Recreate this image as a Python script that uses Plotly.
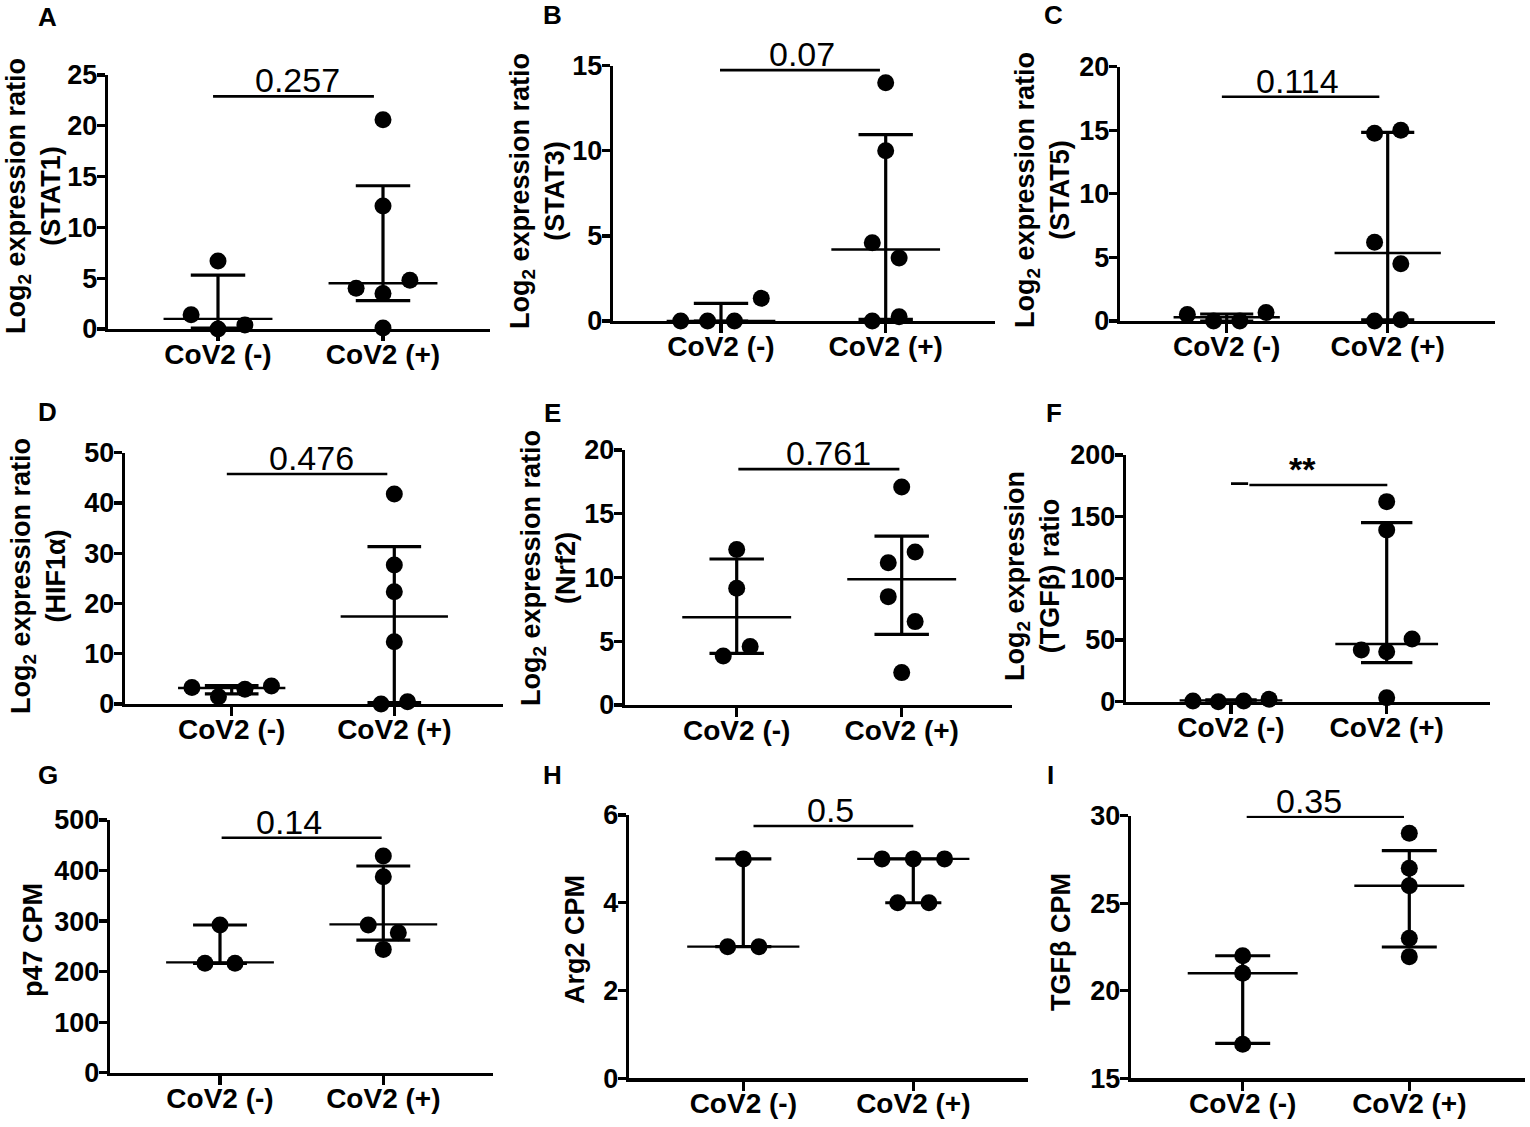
import plotly.graph_objects as go

W, H = 1530, 1127
CATEGORIES = ["CoV2 (-)", "CoV2 (+)"]
FONT = "Liberation Sans, Arial, Helvetica, sans-serif"

# ---------------- data ----------------
# A: STAT1
stat1_neg = [6.7, 1.4, 0.0, 0.4]
stat1_pos = [20.6, 12.1, 4.0, 3.5, 4.8, 0.1]
stat1_median = [1.0, 4.5]
stat1_q1 = [0.1, 2.8]
stat1_q3 = [5.3, 14.1]
stat1_bar = 22.9
stat1_p = "0.257"
stat1_ticks = [0, 5, 10, 15, 20, 25]

# B: STAT3
stat3_neg = [0.0, 0.0, 0.0, 1.33]
stat3_pos = [14.0, 10.0, 4.6, 3.7, 0.0, 0.25]
stat3_median = [0.0, 4.2]
stat3_q1 = [0.0, 0.1]
stat3_q3 = [1.04, 10.95]
stat3_bar = 14.74
stat3_p = "0.07"
stat3_ticks = [0, 5, 10, 15]

# C: STAT5
stat5_neg = [0.52, 0.0, 0.0, 0.66]
stat5_pos = [14.76, 15.0, 6.2, 4.5, 0.0, 0.1]
stat5_median = [0.3, 5.35]
stat5_q1 = [0.0, 0.1]
stat5_q3 = [0.55, 14.84]
stat5_bar = 17.64
stat5_p = "0.114"
stat5_ticks = [0, 5, 10, 15, 20]

# D: HIF1a
hif_neg = [3.3, 1.46, 2.92, 3.58]
hif_pos = [41.8, 27.65, 22.35, 12.4, 0.0, 0.46]
hif_median = [3.18, 17.4]
hif_q1 = [2.0, 0.27]
hif_q3 = [3.65, 31.3]
hif_bar = 45.76
hif_p = "0.476"
hif_ticks = [0, 10, 20, 30, 40, 50]

# E: Nrf2
nrf_neg = [12.2, 9.15, 3.84, 4.58]
nrf_pos = [17.1, 11.16, 12.0, 8.5, 6.54, 2.54]
nrf_median = [6.88, 9.86]
nrf_q1 = [4.05, 5.54]
nrf_q3 = [11.45, 13.25]
nrf_bar = 18.5
nrf_p = "0.761"
nrf_ticks = [0, 5, 10, 15, 20]

# F: TGFb expression ratio
tgf_neg = [0.5, 0.0, 0.5, 1.9]
tgf_pos = [162.2, 139.2, 41.9, 40.5, 50.8, 3.2]
tgf_median = [1.0, 46.8]
tgf_q1 = [0.3, 31.6]
tgf_q3 = [1.5, 145.1]
tgf_bar = 175.7
tgf_p = "**"
tgf_ticks = [0, 50, 100, 150, 200]

# G: p47 CPM
p47_neg = [292.2, 216.4, 216.4]
p47_pos = [428.8, 387.9, 292.2, 244.0, 277.0]
p47_median = [218.3, 293.5]
p47_q1 = [216.4, 262.5]
p47_q3 = [292.2, 409.0]
p47_bar = 465.0
p47_p = "0.14"
p47_ticks = [0, 100, 200, 300, 400, 500]

# H: Arg2 CPM
arg2_neg = [5.0, 3.0, 3.0]
arg2_pos = [5.0, 5.0, 5.0, 4.0, 4.0]
arg2_median = [3.0, 5.0]
arg2_q1 = [3.0, 4.0]
arg2_q3 = [5.0, 5.0]
arg2_bar = 5.75
arg2_p = "0.5"
arg2_ticks = [0, 2, 4, 6]

# I: TGFb CPM
tgfcpm_neg = [22.0, 21.0, 16.95]
tgfcpm_pos = [29.0, 27.0, 26.0, 23.0, 21.95]
tgfcpm_median = [21.0, 26.0]
tgfcpm_q1 = [17.0, 22.5]
tgfcpm_q3 = [22.0, 28.0]
tgfcpm_bar = 29.94
tgfcpm_p = "0.35"
tgfcpm_ticks = [15, 20, 25, 30]

# ---------------- panel assembly (values + layout geometry) ----------------
# geometry in pixels: left, right, bottom, top, category-0 centre, category-1 centre
PANELS = [
    dict(letter="A", neg=stat1_neg, pos=stat1_pos, med=stat1_median, q1=stat1_q1, q3=stat1_q3,
         bar=stat1_bar, p=stat1_p, ticks=stat1_ticks,
         title="Log<sub>2</sub> expression ratio<br>(STAT1)",
         box=(108, 490, 329, 75, 218, 383), bar_x=(-0.03, 0.945), p_x=0.483,
         title_xy=(33, 196), letter_xy=(47, 17), thresh=25.8, step=0.163),
    dict(letter="B", neg=stat3_neg, pos=stat3_pos, med=stat3_median, q1=stat3_q1, q3=stat3_q3,
         bar=stat3_bar, p=stat3_p, ticks=stat3_ticks,
         title="Log<sub>2</sub> expression ratio<br>(STAT3)",
         box=(613, 995, 321, 65.7, 721, 885.7), bar_x=(-0.006, 0.965), p_x=0.49,
         title_xy=(538, 191), letter_xy=(552, 15), thresh=25.8, step=0.163),
    dict(letter="C", neg=stat5_neg, pos=stat5_pos, med=stat5_median, q1=stat5_q1, q3=stat5_q3,
         bar=stat5_bar, p=stat5_p, ticks=stat5_ticks,
         title="Log<sub>2</sub> expression ratio<br>(STAT5)",
         box=(1120, 1495, 321, 66.7, 1226.7, 1387.7), bar_x=(-0.03, 0.948), p_x=0.44,
         title_xy=(1042, 190), letter_xy=(1053, 15), thresh=25.8, step=0.163),
    dict(letter="D", neg=hif_neg, pos=hif_pos, med=hif_median, q1=hif_q1, q3=hif_q3,
         bar=hif_bar, p=hif_p, ticks=hif_ticks,
         title="Log<sub>2</sub> expression ratio<br>(HIF1α)",
         box=(125, 503, 704, 452.7, 231.7, 394.3), bar_x=(-0.03, 0.957), p_x=0.49,
         title_xy=(38, 576), letter_xy=(47, 412), thresh=25.8, step=0.163),
    dict(letter="E", neg=nrf_neg, pos=nrf_pos, med=nrf_median, q1=nrf_q1, q3=nrf_q3,
         bar=nrf_bar, p=nrf_p, ticks=nrf_ticks,
         title="Log<sub>2</sub> expression ratio<br>(Nrf2)",
         box=(625, 1012, 705, 450, 736.7, 901.7), bar_x=(0.01, 0.986), p_x=0.555,
         title_xy=(548, 568), letter_xy=(552, 413), thresh=25.8, step=0.163),
    dict(letter="F", neg=tgf_neg, pos=tgf_pos, med=tgf_median, q1=tgf_q1, q3=tgf_q3,
         bar=tgf_bar, p=tgf_p, ticks=tgf_ticks,
         title="Log<sub>2</sub> expression<br>(TGFβ) ratio",
         box=(1126, 1490, 701.7, 455, 1231, 1386.7), bar_x=(0.118, 1.004), p_x=0.46,
         title_xy=(1032, 576), letter_xy=(1054, 413), thresh=25.8, step=0.163,
         extra_bar=(0.0, 0.11, 1.1), p_bold=True),
    dict(letter="G", neg=p47_neg, pos=p47_pos, med=p47_median, q1=p47_q1, q3=p47_q3,
         bar=p47_bar, p=p47_p, ticks=p47_ticks,
         title="p47 CPM",
         box=(110, 493, 1072.7, 820, 220, 383.3), bar_x=(0.01, 0.99), p_x=0.42,
         title_xy=(33, 940), letter_xy=(48, 775), thresh=18, step=0.184),
    dict(letter="H", neg=arg2_neg, pos=arg2_pos, med=arg2_median, q1=arg2_q1, q3=arg2_q3,
         bar=arg2_bar, p=arg2_p, ticks=arg2_ticks,
         title="Arg2 CPM",
         box=(629, 1028, 1078.3, 815, 743.3, 913.3), bar_x=(0.06, 1.0), p_x=0.51,
         title_xy=(575, 940), letter_xy=(552, 775), thresh=18, step=0.184),
    dict(letter="I", neg=tgfcpm_neg, pos=tgfcpm_pos, med=tgfcpm_median, q1=tgfcpm_q1, q3=tgfcpm_q3,
         bar=tgfcpm_bar, p=tgfcpm_p, ticks=tgfcpm_ticks,
         title="TGFβ CPM",
         box=(1131, 1525, 1078.3, 815.7, 1242.7, 1409.3), bar_x=(0.024, 0.968), p_x=0.40,
         title_xy=(1061, 942), letter_xy=(1050, 775), thresh=12, step=0.16),
]

MED_HALF = 0.33
CAP_HALF = 0.165
MARKER = 17
TICK_FONT = 27
XTICK_FONT = 28
TITLE_FONT = 27
P_FONT = 34
LETTER_FONT = 26


def spread(vals, px_per_unit, thresh_px, step):
    """GraphPad-like row spreading: points close in y share a row and are centred."""
    order = sorted(range(len(vals)), key=lambda i: -vals[i])
    groups, cur = [], []
    for i in order:
        if cur and (vals[cur[0]] - vals[i]) * px_per_unit > thresh_px:
            groups.append(cur)
            cur = []
        cur.append(i)
    if cur:
        groups.append(cur)
    offs = [0.0] * len(vals)
    for g in groups:
        g = sorted(g)
        m = len(g)
        for k, i in enumerate(g):
            offs[i] = (k - (m - 1) / 2) * step
    return offs


fig = go.Figure()
annotations = []
layout = {}

for n, P in enumerate(PANELS, start=1):
    xa = "x" if n == 1 else f"x{n}"
    ya = "y" if n == 1 else f"y{n}"
    left, right, bottom, top, c0, c1 = P["box"]
    ticks = P["ticks"]
    ymin, ymax = ticks[0], ticks[-1]
    span = c1 - c0
    xmin, xmax = (left - c0) / span, (right - c0) / span
    ppu = (bottom - top) / (ymax - ymin)

    # median and interquartile range
    lw_x, lw_y = [], []   # median lines
    vx, vy = [], []       # vertical + caps
    for c in range(2):
        m, lo, hi = P["med"][c], P["q1"][c], P["q3"][c]
        lw_x += [c - MED_HALF, c + MED_HALF, None]
        lw_y += [m, m, None]
        vx += [c, c, None, c - CAP_HALF, c + CAP_HALF, None, c - CAP_HALF, c + CAP_HALF, None]
        vy += [lo, hi, None, lo, lo, None, hi, hi, None]
    fig.add_trace(go.Scatter(x=vx, y=vy, xaxis=xa, yaxis=ya, mode="lines",
                             line=dict(color="black", width=3.2), hoverinfo="skip", showlegend=False))
    fig.add_trace(go.Scatter(x=lw_x, y=lw_y, xaxis=xa, yaxis=ya, mode="lines",
                             line=dict(color="black", width=2.4), hoverinfo="skip", showlegend=False))

    # significance bar
    bx, by = [P["bar_x"][0], P["bar_x"][1]], [P["bar"], P["bar"]]
    if "extra_bar" in P:
        e0, e1, dy = P["extra_bar"]
        bx += [None, e0, e1]
        by += [None, P["bar"] + dy, P["bar"] + dy]
    fig.add_trace(go.Scatter(x=bx, y=by, xaxis=xa, yaxis=ya, mode="lines",
                             line=dict(color="black", width=2.6), hoverinfo="skip", showlegend=False))

    # points
    xs, ys = [], []
    for c, vals in enumerate([P["neg"], P["pos"]]):
        offs = spread(vals, ppu, P["thresh"], P["step"])
        xs += [c + o for o in offs]
        ys += list(vals)
    fig.add_trace(go.Scatter(x=xs, y=ys, xaxis=xa, yaxis=ya, mode="markers",
                             marker=dict(color="black", size=MARKER, line=dict(width=0)),
                             cliponaxis=False, hoverinfo="skip", showlegend=False))

    layout[f"xaxis{'' if n == 1 else n}"] = dict(
        domain=[left / W, right / W], range=[xmin, xmax], anchor=ya, automargin=False,
        tickmode="array", tickvals=[0, 1], ticktext=CATEGORIES,
        showline=True, linecolor="black", linewidth=3.2, ticks="outside",
        ticklen=9, tickwidth=3.2, tickcolor="black", showgrid=False, zeroline=False,
        ticklabelstandoff=-11,
        tickfont=dict(family=FONT, size=XTICK_FONT, color="black", weight="bold"), fixedrange=True)
    layout[f"yaxis{'' if n == 1 else n}"] = dict(
        domain=[1 - bottom / H, 1 - top / H], range=[ymin, ymax], anchor=xa, automargin=False,
        tickmode="array", tickvals=ticks, ticktext=[str(t) for t in ticks],
        showline=True, linecolor="black", linewidth=3.2, ticks="outside",
        ticklen=8, tickwidth=3.2, tickcolor="black", showgrid=False, zeroline=False,
        ticklabelstandoff=-6,
        tickfont=dict(family=FONT, size=TICK_FONT, color="black", weight="bold"), fixedrange=True)

    # p-value / significance text
    annotations.append(dict(
        x=P["p_x"], y=P["bar"], xref=xa, yref=ya, text=P["p"], showarrow=False,
        xanchor="center", yanchor="bottom", yshift=-5,
        font=dict(family=FONT, size=P_FONT, color="black",
                  weight="bold" if P.get("p_bold") else "normal")))
    # y-axis title
    tx, ty = P["title_xy"]
    annotations.append(dict(
        x=tx / W, y=1 - ty / H, xref="paper", yref="paper", text=P["title"],
        showarrow=False, textangle=-90, xanchor="center", yanchor="middle", align="center",
        font=dict(family=FONT, size=TITLE_FONT, color="black", weight="bold")))
    # panel letter
    lx, ly = P["letter_xy"]
    annotations.append(dict(
        x=lx / W, y=1 - ly / H, xref="paper", yref="paper", text=P["letter"],
        showarrow=False, xanchor="center", yanchor="middle",
        font=dict(family=FONT, size=LETTER_FONT, color="black", weight="bold")))

fig.update_layout(
    width=W, height=H, margin=dict(l=0, r=0, t=0, b=0, pad=0, autoexpand=False),
    paper_bgcolor="white", plot_bgcolor="white",
    font=dict(family=FONT, color="black"),
    annotations=annotations, showlegend=False, **layout)

fig.write_html("out.html", config={"displayModeBar": False, "staticPlot": True},
               post_script="document.body.style.margin='0';document.body.style.overflow='hidden';")
